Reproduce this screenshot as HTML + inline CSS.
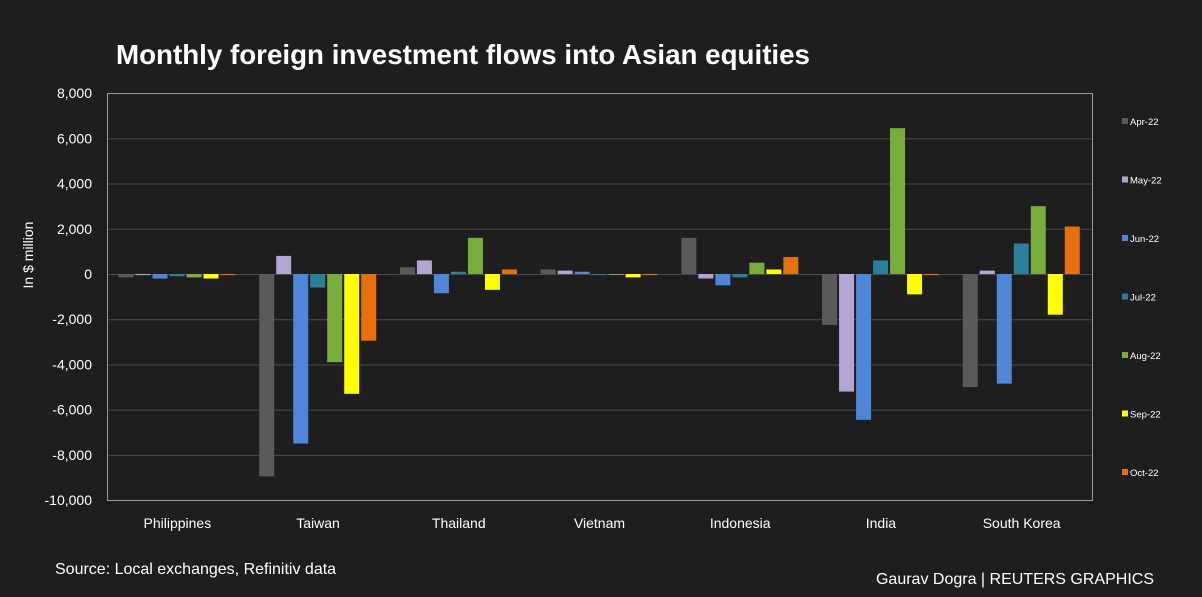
<!DOCTYPE html>
<html><head><meta charset="utf-8"><style>
body{margin:0;background:#1e1e1f;}
svg{display:block;font-family:"Liberation Sans",sans-serif;}
</style></head><body>
<svg width="1202" height="597" xmlns="http://www.w3.org/2000/svg">
<rect width="1202" height="597" fill="#1e1e1f"/>
<text x="116" y="64" fill="#fff" font-size="27.5" font-weight="bold" textLength="694" lengthAdjust="spacingAndGlyphs">Monthly foreign investment flows into Asian equities</text>
<g id="grid" stroke="#4a4a4a" stroke-width="1"></g>
<rect x="107.5" y="93.5" width="985" height="407" fill="none" stroke="#9a9a9a"/>
<g id="yl" fill="#fff" font-size="14" text-anchor="end"></g>
<text transform="translate(33,255) rotate(-90)" fill="#fff" font-size="14" text-anchor="middle">In $ million</text>
<g id="bars"></g>
<g id="xl" fill="#fff" font-size="14" text-anchor="middle"></g>
<g id="leg" fill="#fff" font-size="9.5"></g>
<text x="55" y="574" fill="#fff" font-size="16">Source: Local exchanges, Refinitiv data</text>
<text x="1154" y="584" fill="#fff" font-size="16" text-anchor="end">Gaurav Dogra | REUTERS GRAPHICS</text>
</svg>
<script>
const ns="http://www.w3.org/2000/svg";
function el(p,t,a,txt){const e=document.createElementNS(ns,t);for(const k in a)e.setAttribute(k,a[k]);if(txt!=null)e.textContent=txt;document.getElementById(p).appendChild(e);}
const y=v=>274-v*22.61/1000;
for(let v=-10000;v<=8000;v+=2000){if(v>-10000&&v<8000)el("grid","line",{x1:107,x2:1092,y1:y(v)+.5,y2:y(v)+.5});
el("yl","text",{x:92,y:y(v)+5},v.toLocaleString("en-US"));}
const cols=["#5a5a5a","#b3a6d4","#4f86d6","#2b7f98","#78ad3e","#ffff00","#e8700c"];
const names=["Apr-22","May-22","Jun-22","Jul-22","Aug-22","Sep-22","Oct-22"];
const groups=["Philippines","Taiwan","Thailand","Vietnam","Indonesia","India","South Korea"];
const data=[[-150,-50,-200,-100,-150,-200,-50],[-8950,800,-7500,-600,-3900,-5300,-2950],[300,600,-850,100,1600,-700,200],[200,150,100,-50,0,-150,-50],[1600,-200,-500,-150,500,200,750],[-2250,-5200,-6450,600,6450,-900,-50],[-5000,150,-4850,1350,3000,-1800,2100]];
const gw=985/7;
groups.forEach((g,i)=>{const x0=107+i*gw;
el("xl","text",{x:x0+gw/2,y:528},g);
data[i].forEach((v,j)=>{const bx=x0+11.5+j*17;const a=y(v),b=y(0);
el("bars","rect",{x:bx,y:Math.min(a,b),width:15,height:Math.max(Math.abs(a-b),1),fill:cols[j]});});});
names.forEach((n,j)=>{const ly=122+j*58.5;el("leg","rect",{x:1122,y:ly-4,width:6,height:6,fill:cols[j]});el("leg","text",{x:1130,y:ly+3},n);});
</script>
</body></html>
